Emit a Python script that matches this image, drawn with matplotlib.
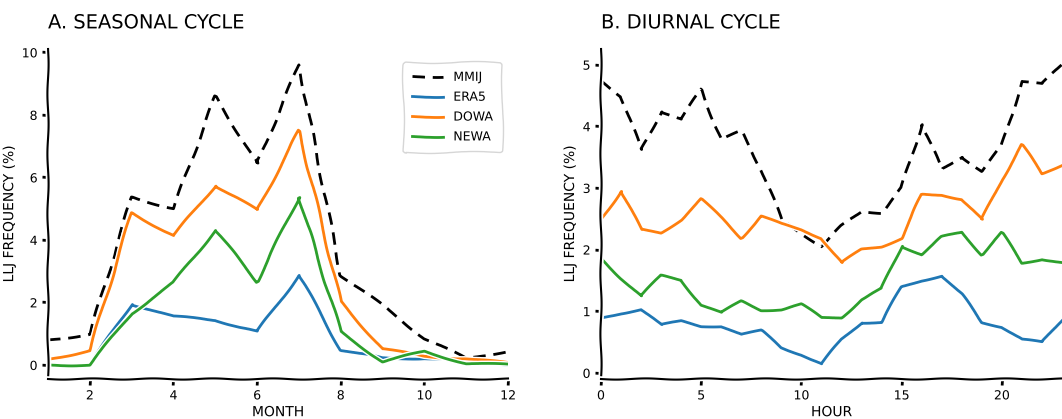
import numpy as np
from matplotlib import pyplot as plt

# monthly LLJ frequency (%)
months = np.arange(1, 13)
mmij_month = [0.8, 0.98, 5.37, 5.0, 8.6, 6.44, 9.6, 2.87, 1.9, 0.85, 0.2, 0.45]
era5_month = [0.0, 0.0, 1.95, 1.54, 1.44, 1.06, 2.87, 0.48, 0.21, 0.22, 0.1, 0.03]
dowa_month = [0.18, 0.46, 4.87, 4.13, 5.74, 4.95, 7.5, 2.02, 0.51, 0.27, 0.21, 0.05]
newa_month = [0.0, 0.0, 1.65, 2.63, 4.31, 2.66, 5.37, 1.06, 0.1, 0.43, 0.05, 0.0]

# hourly LLJ frequency (%)
hours = np.arange(0, 24)
mmij_hour = [4.74, 4.49, 3.62, 4.24, 4.11, 4.6, 3.78, 3.92, 3.3, 2.49, 2.27, 2.05,
             2.38, 2.62, 2.6, 3.0, 4.03, 3.3, 3.51, 3.27, 3.68, 4.73, 4.68, 5.0]
era5_hour = [0.89, 0.97, 1.03, 0.77, 0.84, 0.76, 0.76, 0.62, 0.68, 0.41, 0.3, 0.14,
             0.54, 0.82, 0.82, 1.39, 1.5, 1.58, 1.27, 0.82, 0.75, 0.54, 0.49, 0.86]
dowa_hour = [2.49, 2.95, 2.32, 2.27, 2.49, 2.82, 2.51, 2.19, 2.54, 2.41, 2.32, 2.19,
             1.78, 2.0, 2.05, 2.19, 2.89, 2.89, 2.82, 2.48, 3.14, 3.7, 3.23, 3.38]
newa_hour = [1.86, 1.54, 1.24, 1.58, 1.51, 1.1, 0.97, 1.16, 1.02, 1.03, 1.11, 0.89,
             0.9, 1.19, 1.36, 2.06, 1.92, 2.2, 2.28, 1.92, 2.27, 1.78, 1.85, 1.79]

names = ["MMIJ", "ERA5", "DOWA", "NEWA"]
colors = ["black", "#1f77b4", "#ff7f0e", "#2ca02c"]

plt.xkcd()
plt.rcParams['font.family'] = ['DejaVu Sans']
plt.rcParams['xtick.major.size'] = 4
plt.rcParams['ytick.major.size'] = 4
plt.rcParams['xtick.major.width'] = 2
plt.rcParams['ytick.major.width'] = 2

fig = plt.figure(figsize=(10.62, 4.19), dpi=100)
ax1 = fig.add_axes([0.0452, 0.0955, 0.4332, 0.787])
ax2 = fig.add_axes([0.5659, 0.0955, 0.4341, 0.787])

for ax, x, series in [(ax1, months, [mmij_month, era5_month, dowa_month, newa_month]),
                      (ax2, hours, [mmij_hour, era5_hour, dowa_hour, newa_hour])]:
    for name, c, y in zip(names, colors, series):
        if name == "MMIJ":
            ax.plot(x, y, color=c, lw=2, dashes=(4.5, 2.8), label=name)
        else:
            ax.plot(x, y, color=c, lw=2, label=name)
    ax.spines['top'].set_visible(False)
    ax.spines['right'].set_visible(False)
    for s in ['left', 'bottom']:
        ax.spines[s].set_sketch_params(0.6, 60, 1)
    ax.tick_params(labelsize=9)

ax1.set_xlim(1, 12)
ax1.set_ylim(-0.45, 10.1)
ax1.set_xticks([2, 4, 6, 8, 10, 12])
ax1.set_yticks([0, 2, 4, 6, 8, 10])
ax1.set_xlabel("MONTH", fontsize=10, labelpad=2)
ax1.set_ylabel("LLJ FREQUENCY (%)", fontsize=10)
ax1.set_title("A. SEASONAL CYCLE", loc='left', fontsize=14, pad=15)
ax1.legend(loc='upper right', fontsize=9, handlelength=2.5, borderpad=0.7,
           labelspacing=0.55, bbox_to_anchor=(1.0, 0.98))

ax2.set_xlim(0, 23)
ax2.set_ylim(-0.1, 5.25)
ax2.set_xticks([0, 5, 10, 15, 20])
ax2.set_yticks([0, 1, 2, 3, 4, 5])
ax2.set_xlabel("HOUR", fontsize=10, labelpad=2)
ax2.set_ylabel("LLJ FREQUENCY (%)", fontsize=10)
ax2.set_title("B. DIURNAL CYCLE", loc='left', fontsize=14, pad=15)

fig.savefig("out.png", dpi=100)
